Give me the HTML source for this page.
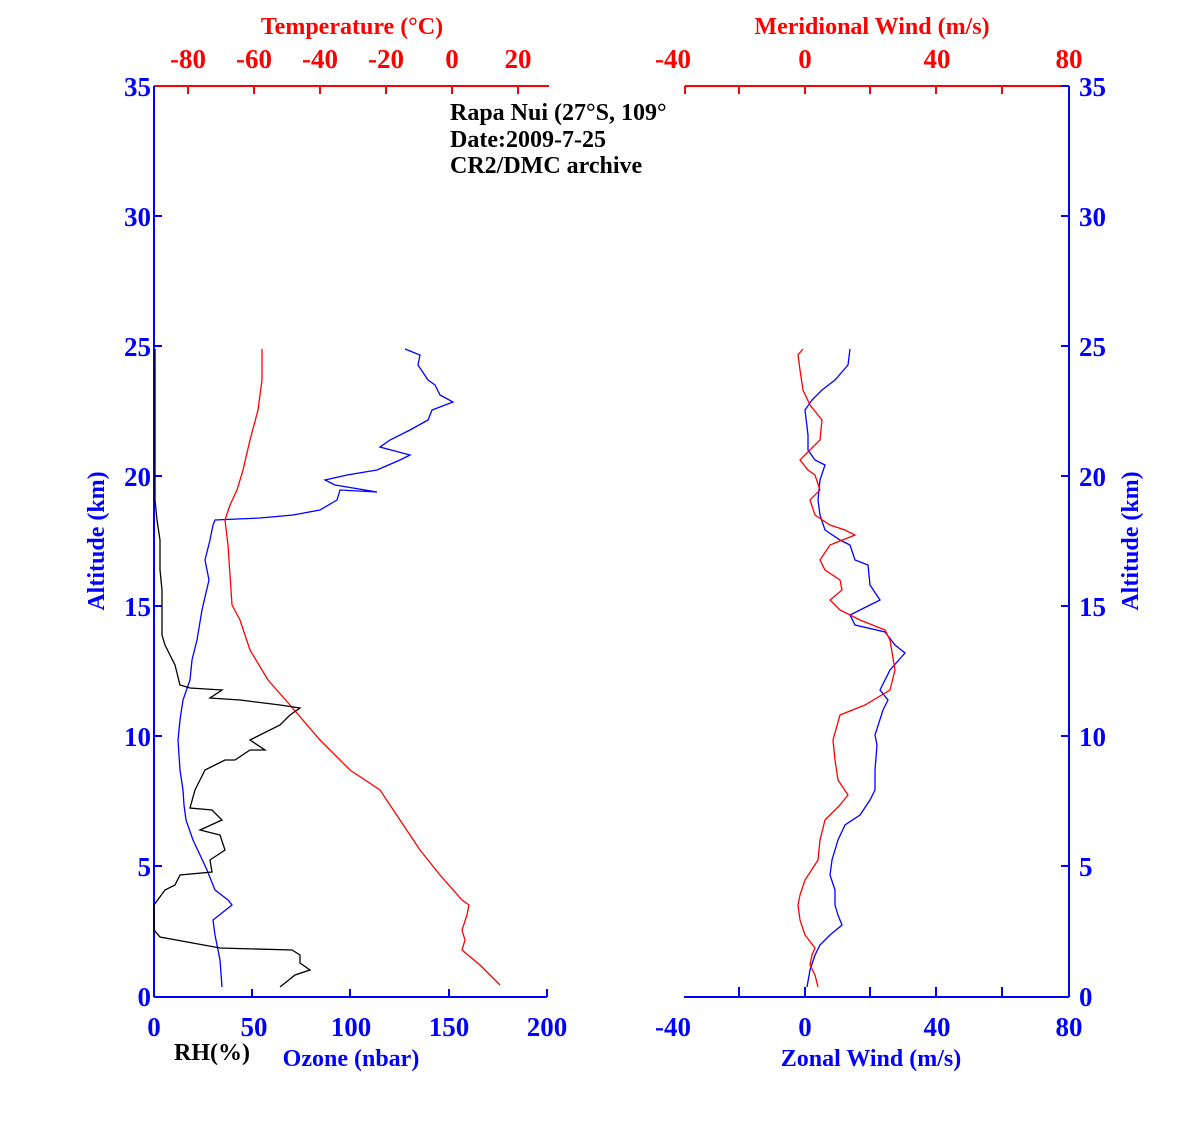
<!DOCTYPE html>
<html><head><meta charset="utf-8"><style>body{margin:0;background:#fff}svg{display:block;font-family:"Liberation Serif",serif;font-weight:bold}</style></head><body>
<svg width="1181" height="1122" viewBox="0 0 1181 1122" xmlns="http://www.w3.org/2000/svg">
<g stroke-width="2" fill="none">
<line x1="154" y1="86" x2="549" y2="86" stroke="#f00"/>
<line x1="188" y1="86" x2="188" y2="94" stroke="#f00"/><line x1="254" y1="86" x2="254" y2="94" stroke="#f00"/><line x1="320" y1="86" x2="320" y2="94" stroke="#f00"/><line x1="386" y1="86" x2="386" y2="94" stroke="#f00"/><line x1="452" y1="86" x2="452" y2="94" stroke="#f00"/><line x1="518" y1="86" x2="518" y2="94" stroke="#f00"/>
<line x1="154" y1="86" x2="154" y2="997" stroke="#00f"/>
<line x1="154" y1="997" x2="547" y2="997" stroke="#00f"/>
<line x1="252" y1="997" x2="252" y2="989" stroke="#00f"/><line x1="350" y1="997" x2="350" y2="989" stroke="#00f"/><line x1="449" y1="997" x2="449" y2="989" stroke="#00f"/><line x1="547" y1="997" x2="547" y2="989" stroke="#00f"/>
<line x1="685" y1="86" x2="1069" y2="86" stroke="#f00"/>
<line x1="685" y1="86" x2="685" y2="94" stroke="#f00"/><line x1="739" y1="86" x2="739" y2="94" stroke="#f00"/><line x1="805" y1="86" x2="805" y2="94" stroke="#f00"/><line x1="870" y1="86" x2="870" y2="94" stroke="#f00"/><line x1="936" y1="86" x2="936" y2="94" stroke="#f00"/><line x1="1002" y1="86" x2="1002" y2="94" stroke="#f00"/>
<line x1="684" y1="997" x2="1069" y2="997" stroke="#00f"/>
<line x1="739" y1="997" x2="739" y2="987" stroke="#00f"/><line x1="805" y1="997" x2="805" y2="987" stroke="#00f"/><line x1="870" y1="997" x2="870" y2="987" stroke="#00f"/><line x1="936" y1="997" x2="936" y2="987" stroke="#00f"/><line x1="1002" y1="997" x2="1002" y2="987" stroke="#00f"/>
<line x1="1069" y1="86" x2="1069" y2="997" stroke="#00f"/>
<g stroke="#00f">
<line x1="1061" y1="86" x2="1069" y2="86"/><line x1="1061" y1="216" x2="1069" y2="216"/><line x1="1061" y1="346" x2="1069" y2="346"/><line x1="1061" y1="476" x2="1069" y2="476"/><line x1="1061" y1="606" x2="1069" y2="606"/><line x1="1061" y1="736" x2="1069" y2="736"/><line x1="1061" y1="866" x2="1069" y2="866"/><line x1="1061" y1="997" x2="1069" y2="997"/>
<line x1="154" y1="216" x2="162" y2="216"/><line x1="154" y1="346" x2="162" y2="346"/><line x1="154" y1="476" x2="162" y2="476"/><line x1="154" y1="606" x2="162" y2="606"/><line x1="154" y1="736" x2="162" y2="736"/><line x1="154" y1="866" x2="162" y2="866"/>
</g>
</g>
<g fill="none" stroke-width="1.3">
<polyline stroke="#00f" points="222,987 220,960 217,945 215,935 213,920 232,905 228,900 215,890 207,870 200,855 193,840 186,820 184,805 183,790 180,770 178,740 180,720 183,700 190,680 192,660 197,640 202,610 209,580 205,560 210,540 213,525 215,520 260,518 293,515 320,510 337,500 340,490 377,492 335,485 325,480 347,475 377,470 400,460 410,455 380,447 390,440 410,430 428,420 432,410 453,402 440,395 435,385 428,380 418,365 420,355 405,349"/>
<polyline stroke="#f00" points="500,985 480,965 462,950 465,940 462,930 467,915 469,905 462,900 440,875 420,850 400,820 380,790 350,770 320,740 290,705 268,680 250,650 240,620 232,605 230,575 228,545 225,520 230,505 237,490 243,470 250,440 258,410 262,380 262,349"/>
<polyline stroke="#000" points="280,987 295,975 310,970 300,963 300,955 292,950 220,948 160,937 154,930 154,905 165,890 175,885 180,875 212,872 210,860 225,850 220,835 200,830 222,820 212,810 190,808 195,790 200,780 205,770 225,760 235,760 250,750 265,750 250,740 280,725 290,715 300,708 280,705 240,700 210,698 222,690 190,688 180,685 175,665 165,645 162,635 162,590 160,570 160,540 157,520 155,500 155,349"/>
<polyline stroke="#00f" points="807,987 810,970 815,955 820,945 830,935 842,925 838,915 835,905 835,890 830,875 832,860 838,840 845,825 860,815 870,800 875,790 875,770 877,745 875,735 883,710 888,700 880,690 890,670 905,653 895,645 885,632 855,625 850,615 870,605 880,600 870,585 868,565 855,560 850,545 840,540 825,530 820,515 818,500 820,480 825,465 815,460 808,450 808,435 805,410 812,400 822,390 835,380 848,365 850,349"/>
<polyline stroke="#f00" points="818,987 815,975 810,965 812,955 815,948 805,935 800,920 798,905 800,895 805,880 818,860 820,840 825,820 840,805 848,795 838,780 835,760 833,740 840,715 865,705 890,690 895,670 890,640 885,630 860,620 840,610 830,600 842,590 840,580 825,570 820,560 830,545 855,535 845,530 830,525 815,515 810,500 820,490 815,475 808,470 800,460 810,450 820,440 822,420 810,405 803,390 800,370 798,355 803,349"/>
</g>
<g fill="#f00" font-size="27" text-anchor="middle">
<text x="188" y="68">-80</text><text x="254" y="68">-60</text><text x="320" y="68">-40</text><text x="386" y="68">-20</text><text x="452" y="68">0</text><text x="518" y="68">20</text>
<text x="673" y="68">-40</text><text x="805" y="68">0</text><text x="937" y="68">40</text><text x="1069" y="68">80</text>
<text x="352" y="34" font-size="24">Temperature (°C)</text>
<text x="872" y="34" font-size="24">Meridional Wind (m/s)</text>
</g>
<g fill="#00f" font-size="27">
<g text-anchor="end"><text x="151" y="96">35</text><text x="151" y="226">30</text><text x="151" y="356">25</text><text x="151" y="486">20</text><text x="151" y="616">15</text><text x="151" y="746">10</text><text x="151" y="876">5</text><text x="151" y="1006">0</text></g>
<g><text x="1079" y="96">35</text><text x="1079" y="226">30</text><text x="1079" y="356">25</text><text x="1079" y="486">20</text><text x="1079" y="616">15</text><text x="1079" y="746">10</text><text x="1079" y="876">5</text><text x="1079" y="1006">0</text></g>
<g text-anchor="middle"><text x="154" y="1036">0</text><text x="254" y="1036">50</text><text x="351" y="1036">100</text><text x="449" y="1036">150</text><text x="547" y="1036">200</text>
<text x="673" y="1036">-40</text><text x="805" y="1036">0</text><text x="937" y="1036">40</text><text x="1069" y="1036">80</text>
<text x="351" y="1066" font-size="24">Ozone (nbar)</text><text x="871" y="1066" font-size="24">Zonal Wind (m/s)</text></g>
<text transform="translate(104,541) rotate(-90)" text-anchor="middle" font-size="24">Altitude (km)</text>
<text transform="translate(1138,541) rotate(-90)" text-anchor="middle" font-size="24">Altitude (km)</text>
</g>
<g fill="#000" font-size="24">
<text x="174" y="1060">RH(%)</text>
<text x="450" y="120">Rapa Nui (27°S, 109°</text>
<text x="450" y="147">Date:2009-7-25</text>
<text x="450" y="173">CR2/DMC archive</text>
</g>
</svg>
</body></html>
